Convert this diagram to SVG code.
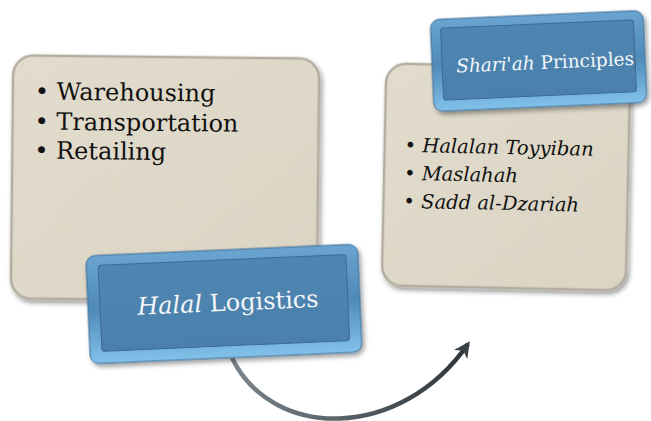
<svg xmlns="http://www.w3.org/2000/svg" width="651" height="421" viewBox="0 0 651 421">
<defs>
<linearGradient id="beige" x1="0" y1="0" x2="1" y2="1">
<stop offset="0" stop-color="#e2dccd"/><stop offset="1" stop-color="#dbd4c3"/>
</linearGradient>
<linearGradient id="bevel" x1="0" y1="0" x2="0" y2="1">
<stop offset="0" stop-color="#6aa4d0"/><stop offset="0.5" stop-color="#4f8ab8"/><stop offset="1" stop-color="#82c2ea"/>
</linearGradient>
<linearGradient id="face" x1="0" y1="0" x2="0" y2="1">
<stop offset="0" stop-color="#4e86b2"/><stop offset="1" stop-color="#4a80ab"/>
</linearGradient>
<linearGradient id="arrowg" x1="0" y1="0" x2="1" y2="0">
<stop offset="0" stop-color="#7a858b"/><stop offset="0.5" stop-color="#555f65"/><stop offset="1" stop-color="#2e3438"/>
</linearGradient>
<filter id="sh" x="-10%" y="-10%" width="130%" height="130%">
<feGaussianBlur in="SourceAlpha" stdDeviation="2.5"/>
<feOffset dx="2" dy="3" result="b"/>
<feComponentTransfer><feFuncA type="linear" slope="0.4"/></feComponentTransfer>
<feMerge><feMergeNode/><feMergeNode in="SourceGraphic"/></feMerge>
</filter>
<marker id="ah" viewBox="0 0 10 10" refX="8" refY="5" markerWidth="3.6" markerHeight="3.6" orient="auto" markerUnits="strokeWidth">
<path d="M0,0 L10,5 L0,10 L3,5 Z" fill="#3a4246"/>
</marker>
<style>
.card{fill:url(#beige);stroke:#b3ad9f;stroke-width:2.5;filter:url(#sh)}
.bev{fill:url(#bevel);stroke:#3f6f96;stroke-width:1;filter:url(#sh)}
.face{fill:url(#face);stroke:#3d6b90;stroke-width:1}
.bl{font-family:"DejaVu Serif","Liberation Serif",serif;fill:#111}
.wt{font-family:"DejaVu Serif","Liberation Serif",serif;fill:#f4f6f8}
</style>
</defs>

<g id="logistics-card" transform="rotate(0.6 166 180)">
<rect class="card" x="12" y="57" width="306" height="243" rx="20"/>
<text class="bl" font-size="24">
<tspan x="34" y="101">• Warehousing</tspan>
<tspan x="34" y="131">• Transportation</tspan>
<tspan x="34" y="160">• Retailing</tspan>
</text>
</g>

<g id="shariah-card" transform="rotate(1.2 508 178)">
<rect class="card" x="384" y="66" width="244" height="222" rx="20"/>
<text class="bl" font-size="19.5" font-style="italic">
<tspan x="404" y="154">• Halalan Toyyiban</tspan>
<tspan x="404" y="182">• Maslahah</tspan>
<tspan x="404" y="210">• Sadd al-Dzariah</tspan>
</text>
</g>

<g id="connectors">
<path d="M232,358 C272,440 400,442 468,344" fill="none" stroke="url(#arrowg)" stroke-width="4.5" marker-end="url(#ah)"/>
</g>

<g id="halal-logistics" transform="rotate(-2.5 223 305)">
<rect class="bev" x="88" y="250" width="272" height="108" rx="9"/>
<rect class="face" x="100" y="260" width="248" height="86" rx="3"/>
<text class="wt" x="228" y="311" font-size="24" text-anchor="middle"><tspan font-style="italic">Halal</tspan> Logistics</text>
</g>

<g id="shariah-principles" transform="rotate(-2.5 538 60)">
<rect class="bev" x="432" y="15" width="213" height="92" rx="9"/>
<rect class="face" x="442" y="24" width="193" height="72" rx="3"/>
<text class="wt" x="545" y="69" font-size="18.5" text-anchor="middle"><tspan font-style="italic">Shari'ah</tspan> Principles</text>
</g>
</svg>
